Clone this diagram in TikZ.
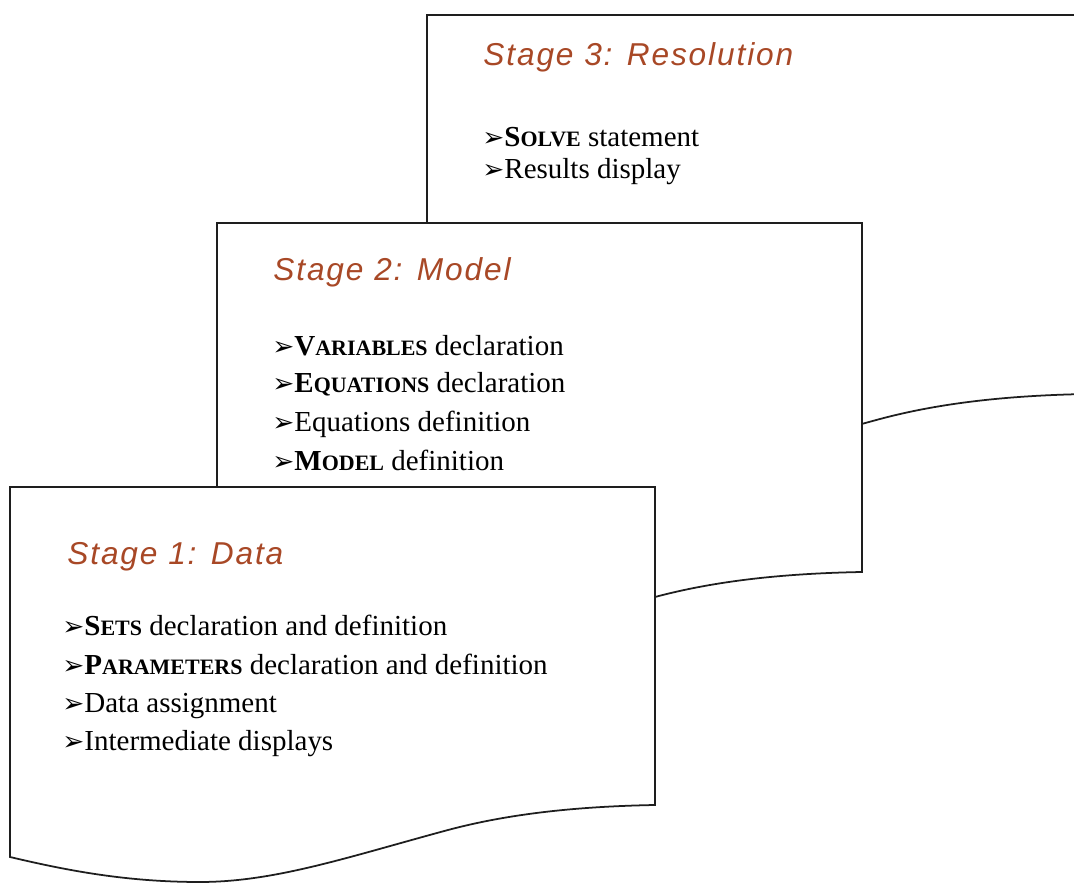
\documentclass[tikz,border=0pt]{standalone}
\usepackage{fontspec}
\setmainfont{Liberation Serif}
\newfontfamily\titlefont[LetterSpace=6]{Liberation Sans}
\newfontfamily\symfont{DejaVu Sans}
\usetikzlibrary{positioning}
\definecolor{stagebrown}{RGB}{168,72,38}
\definecolor{pageedge}{RGB}{30,30,30}

% bullet and fake small caps keyword
\newcommand{\bul}{{\symfont\fontsize{15}{15}\selectfont ➢}}
\newcommand{\kw}[2]{{\bfseries #1{\fontsize{12.5}{13}\selectfont #2}}}
% page with wavy bottom: left, top, bottom-right y, width
\newcommand{\stagepage}[4]{%
  \draw[page] (#1,#2) -- ({#1+#4},#2) -- ({#1+#4},#3)
    .. controls ({#1+#4-1.6},{#3-0.03}) and ({#1+#4-2.94},{#3-0.18}) .. ({#1+#4-4.14},{#3-0.5})
    .. controls ({#1+#4-6.14},{#3-1.04}) and ({#1+#4-7.6},{#3-1.54}) .. ({#1+#4-9.1},{#3-1.54})
    .. controls ({#1+#4-10.6},{#3-1.54}) and ({#1+#4-11.8},{#3-1.3}) .. (#1,{#3-1.04}) -- cycle;}

\begin{document}
\begin{tikzpicture}[
    page/.style={draw=pageedge,line width=1pt,fill=white},
    stagetitle/.style={font=\titlefont\itshape\fontsize{18}{21}\selectfont,text=stagebrown,anchor=base west,inner sep=0pt},
    item/.style={font=\fontsize{16.5}{20}\selectfont,anchor=base west,inner sep=0pt}
  ]
  \clip (0,0) rectangle (21.48,17.64);
  \fill[white] (0,0) rectangle (21.48,17.64);

  % Stage 3
  \stagepage{8.54}{17.34}{9.76}{13.2}
  \node[stagetitle] (title3) at (9.66,16.32) {Stage 3: Resolution};
  \node[item] (solve) at (9.64,14.7) {\bul\kw{S}{OLVE} statement};
  \node[item] (results) at (9.64,14.06) {\bul Results display};

  % Stage 2
  \stagepage{4.34}{13.18}{6.2}{12.9}
  \node[stagetitle] (title2) at (5.46,12.02) {Stage 2: Model};
  \node[item] (vars) at (5.44,10.52) {\bul\kw{V}{ARIABLES} declaration};
  \node[item] (eqdecl) at (5.44,9.78) {\bul\kw{E}{QUATIONS} declaration};
  \node[item] (eqdef) at (5.44,9.0) {\bul Equations definition};
  \node[item] (model) at (5.44,8.22) {\bul\kw{M}{ODEL} definition};

  % Stage 1
  \stagepage{0.2}{7.9}{1.54}{12.9}
  \node[stagetitle] (title1) at (1.34,6.34) {Stage 1: Data};
  \node[item] (sets) at (1.24,4.92) {\bul\kw{S}{ETS} declaration and definition};
  \node[item] (params) at (1.24,4.14) {\bul\kw{P}{ARAMETERS} declaration and definition};
  \node[item] (assign) at (1.24,3.38) {\bul Data assignment};
  \node[item] (displays) at (1.24,2.62) {\bul Intermediate displays};
\end{tikzpicture}
\end{document}
